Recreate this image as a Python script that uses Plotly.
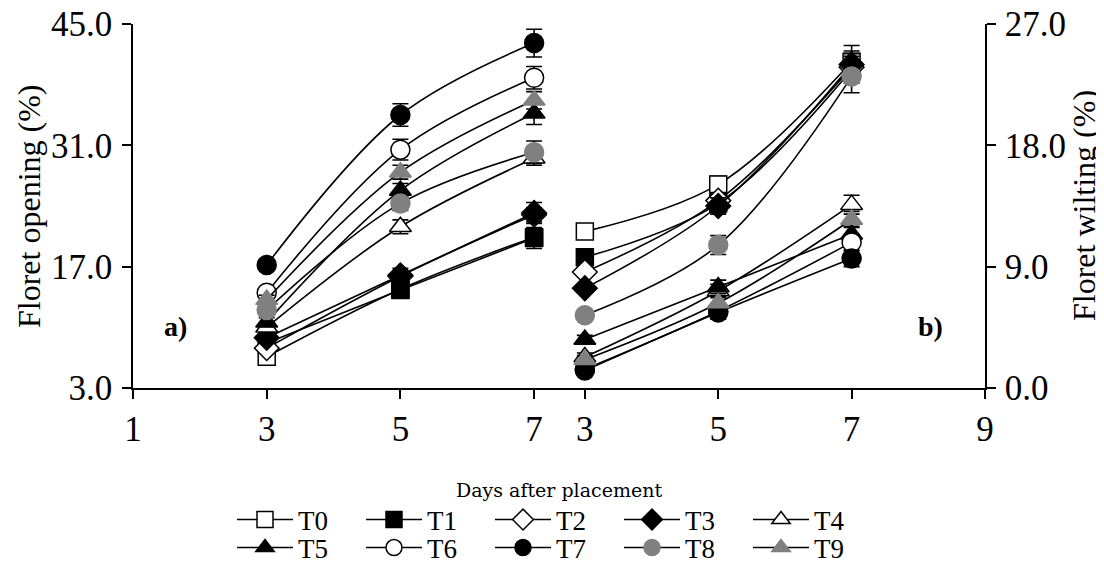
import plotly.graph_objects as go

days = [3, 5, 7]
names = ["T0", "T1", "T2", "T3", "T4", "T5", "T6", "T7", "T8", "T9"]

# Floret opening (%) - panel a
opening = {
    "T0": [6.6, 14.4, 20.4],
    "T1": [8.2, 14.3, 20.3],
    "T2": [7.6, 15.9, 23.0],
    "T3": [8.8, 16.0, 23.2],
    "T4": [10.0, 21.6, 29.5],
    "T5": [10.6, 25.8, 34.7],
    "T6": [14.0, 30.5, 38.8],
    "T7": [17.2, 34.5, 42.8],
    "T8": [12.0, 24.3, 30.2],
    "T9": [13.2, 27.9, 36.2],
}
opening_err = {
    "T0": [0.4, 0.6, 0.8],
    "T1": [0.4, 0.6, 1.2],
    "T2": [0.4, 0.6, 0.8],
    "T3": [0.4, 0.8, 1.2],
    "T4": [0.5, 0.8, 0.8],
    "T5": [0.5, 0.8, 1.3],
    "T6": [0.5, 1.2, 1.3],
    "T7": [0.6, 1.3, 1.6],
    "T8": [0.5, 0.8, 1.3],
    "T9": [0.5, 0.8, 1.0],
}

# Floret wilting (%) - panel b
wilting = {
    "T0": [11.6, 15.1, 24.2],
    "T1": [9.7, 13.7, 23.6],
    "T2": [8.6, 13.9, 23.8],
    "T3": [7.4, 13.5, 24.0],
    "T4": [2.3, 7.2, 13.6],
    "T5": [3.6, 7.5, 11.4],
    "T6": [1.4, 5.7, 10.8],
    "T7": [1.3, 5.6, 9.6],
    "T8": [5.4, 10.6, 23.1],
    "T9": [2.1, 6.3, 12.5],
}
wilting_err = {
    "T0": [0.3, 0.6, 1.2],
    "T1": [0.3, 0.7, 1.0],
    "T2": [0.3, 0.6, 1.0],
    "T3": [0.3, 0.6, 1.0],
    "T4": [0.3, 0.5, 0.7],
    "T5": [0.3, 0.5, 0.6],
    "T6": [0.3, 0.5, 0.6],
    "T7": [0.3, 0.5, 0.6],
    "T8": [0.3, 0.7, 1.2],
    "T9": [0.3, 0.5, 0.6],
}

left_ticks = [3, 17, 31, 45]
right_ticks = [0, 9, 18, 27]
left_xticks = [1, 3, 5, 7]
right_xticks = [3, 5, 7, 9]

styles = {
    "T0": ("square", "white", "black"),
    "T1": ("square", "black", "black"),
    "T2": ("diamond", "white", "black"),
    "T3": ("diamond", "black", "black"),
    "T4": ("triangle-up", "white", "black"),
    "T5": ("triangle-up", "black", "black"),
    "T6": ("circle", "white", "black"),
    "T7": ("circle", "black", "black"),
    "T8": ("circle", "#808080", "#808080"),
    "T9": ("triangle-up", "#808080", "#808080"),
}
sizes = {"square": 17, "diamond": 19, "triangle-up": 19, "circle": 19}

SERIF = "Times New Roman, Liberation Serif, Tinos, serif"

fig = go.Figure()
for i, n in enumerate(names):
    sym, fill, edge = styles[n]
    mk = dict(symbol=sym, color=fill, size=sizes[sym], line=dict(color=edge, width=1.5))
    lg = "legend" if i < 5 else "legend2"
    fig.add_trace(go.Scatter(
        x=days, y=opening[n], name=n, mode="lines+markers",
        line=dict(color="black", width=1.6, shape="spline"), marker=mk,
        error_y=dict(type="data", array=opening_err[n], color="black", thickness=1.6, width=8),
        xaxis="x", yaxis="y", legend=lg, showlegend=True))
    fig.add_trace(go.Scatter(
        x=days, y=wilting[n], name=n, mode="lines+markers",
        line=dict(color="black", width=1.6, shape="spline"), marker=mk,
        error_y=dict(type="data", array=wilting_err[n], color="black", thickness=1.6, width=8),
        xaxis="x2", yaxis="y2", showlegend=False))

# page has an 8px body margin; figure is sized to fit the 1104x572 window
OFF = 8
W, H = 1104 - OFF, 572 - OFF
L, T = 133 - OFF, 24 - OFF
R = W - (985 - OFF)
B = H - (388 - OFF)
pw = W - L - R
ph = H - T - B
split = (559.5 - 133) / pw


def px(xs):
    return (xs - 133) / pw


def py(ys):
    return (388 - ys) / ph


tickfont = dict(family=SERIF, size=35, color="black")
axis_common = dict(showline=True, linecolor="black", linewidth=1.6, ticks="outside",
                   ticklen=9, tickwidth=1.6, tickcolor="black", showgrid=False,
                   zeroline=False, tickfont=tickfont, ticklabeloverflow="allow")

legend_common = dict(orientation="h", x=px(232), xanchor="left",
                     yanchor="middle", entrywidth=58, entrywidthmode="pixels",
                     itemwidth=56,
                     font=dict(family=SERIF, size=27, color="black"),
                     bgcolor="rgba(0,0,0,0)", tracegroupgap=0)

fig.update_layout(
    width=W, height=H, autosize=False,
    margin=dict(l=L, r=R, t=T, b=B, autoexpand=False),
    plot_bgcolor="white", paper_bgcolor="white",
    xaxis=dict(domain=[0, split], range=[1, 7.38], tickvals=left_xticks,
               anchor="y", **axis_common),
    xaxis2=dict(domain=[split, 1], range=[2.62, 9], tickvals=right_xticks,
                anchor="y2", **axis_common),
    yaxis=dict(domain=[0, 1], range=[3, 45], tickvals=left_ticks, tickformat=".1f",
               anchor="x", ticklabelstandoff=3, **axis_common),
    yaxis2=dict(domain=[0, 1], range=[0, 27], tickvals=right_ticks, tickformat=".1f",
                anchor="x2", side="right", ticklabelstandoff=2, **axis_common),
    legend=dict(y=py(520), **legend_common),
    legend2=dict(y=py(548), **legend_common),
    annotations=[
        dict(text="Floret opening (%)", textangle=-90, xref="paper", yref="paper",
             x=px(29), y=0.5, xanchor="center", yanchor="middle", showarrow=False,
             font=dict(family=SERIF, size=32, color="black")),
        dict(text="Floret wilting (%)", textangle=-90, xref="paper", yref="paper",
             x=px(1084), y=0.5, xanchor="center", yanchor="middle", showarrow=False,
             font=dict(family=SERIF, size=32, color="black")),
        dict(text="Days after placement", xref="paper", yref="paper",
             x=px(559), y=py(490), xanchor="center", yanchor="middle",
             showarrow=False, font=dict(family="DejaVu Serif", size=19, color="black")),
        dict(text="<b>a)</b>", xref="paper", yref="paper",
             x=px(175), y=py(326), xanchor="center", yanchor="middle",
             showarrow=False, font=dict(family=SERIF, size=28, color="black")),
        dict(text="<b>b)</b>", xref="paper", yref="paper",
             x=px(930), y=py(326), xanchor="center", yanchor="middle",
             showarrow=False, font=dict(family=SERIF, size=28, color="black")),
    ],
)

fig.write_html("out.html")
